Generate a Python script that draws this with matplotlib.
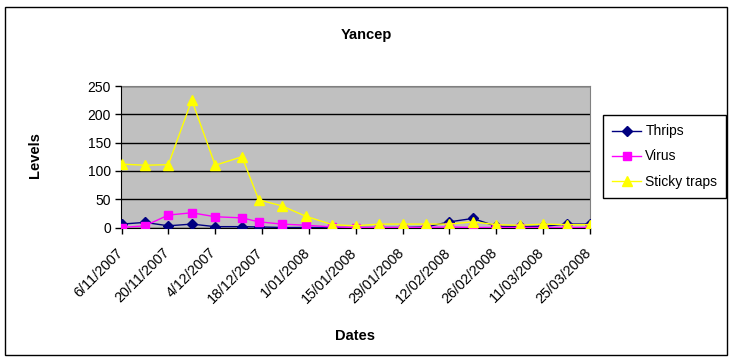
import datetime as dt
import matplotlib
matplotlib.use("Agg")
import matplotlib.pyplot as plt
import matplotlib.transforms as mtransforms
from matplotlib.patches import Rectangle

plt.rcParams['font.family'] = ['Liberation Sans', 'DejaVu Sans']

dates = ["6/11/2007", "13/11/2007", "20/11/2007", "27/11/2007", "4/12/2007",
         "12/12/2007", "17/12/2007", "24/12/2007", "31/12/2007", "8/01/2008",
         "15/01/2008", "22/01/2008", "29/01/2008", "5/02/2008", "12/02/2008",
         "19/02/2008", "26/02/2008", "4/03/2008", "11/03/2008", "18/03/2008",
         "25/03/2008"]
thrips = [6, 9, 3, 6, 1.5, 1.5, 1, 0, 0, 0, 0, 0, 0, 1, 10, 16, 2, 2, 2, 6, 6]
virus = [0, 3, 22, 26, 19, 17, 10, 6, 4, 1, 0, 0, 0, 0, 1, 0, 0, 0, 0, 0, 0]
sticky_traps = [112, 110, 111, 225, 110, 125, 49, 38, 20, 5, 3, 6, 6, 6, 6, 10, 5, 4, 6, 5, 5]

x = [dt.datetime.strptime(d, "%d/%m/%Y") for d in dates]

fig = plt.figure(figsize=(7.32, 3.6), dpi=100)
fig.patches.append(Rectangle((5 / 732, 5 / 360), 722 / 732, 348 / 360, transform=fig.transFigure,
                             fill=False, edgecolor="black", linewidth=1))

ax = fig.add_axes([121.5 / 732, 132.5 / 360, 468.5 / 732, 141.5 / 360])
ax.set_facecolor("#C0C0C0")

ax.plot(x, thrips, color="#000080", marker="D", markersize=5, linewidth=1, label="Thrips", zorder=3)
ax.plot(x, virus, color="#FF00FF", marker="s", markersize=5.5, linewidth=1, label="Virus", zorder=4)
ax.plot(x, sticky_traps, color="#FFFF00", marker="^", markersize=7, linewidth=1, label="Sticky traps", zorder=5)

ax.set_ylim(0, 250)
ax.set_yticks(range(0, 251, 50))
ax.set_xlim(x[0], x[-1])
ax.yaxis.grid(True, color="black", linewidth=1)
ax.set_axisbelow(True)

ticks = [x[0] + dt.timedelta(days=14 * i) for i in range(11)]
ax.set_xticks(ticks)
ax.set_xticklabels([f"{d.day}/{d.month:02d}/{d.year}" for d in ticks],
                   rotation=45, ha="right", rotation_mode="anchor")
ax.tick_params(axis="both", labelsize=10, length=4, width=1, direction="out")
ax.tick_params(axis="x", labelsize=10.3, pad=9)
shift = mtransforms.ScaledTranslation(-6 / 100, 0, fig.dpi_scale_trans)
for lab in ax.get_xticklabels():
    lab.set_transform(lab.get_transform() + shift)

for s in ("top", "right"):
    ax.spines[s].set_color("#808080")
for s in ("left", "bottom"):
    ax.spines[s].set_color("black")

fig.text(366 / 732, 1 - 35 / 360, "Yancep", ha="center", va="center", fontsize=10.5, fontweight="bold")
fig.text(35 / 732, 1 - 155 / 360, "Levels", ha="center", va="center", rotation=90, fontsize=10.5, fontweight="bold")
fig.text(355 / 732, 1 - 336 / 360, "Dates", ha="center", va="center", fontsize=10.5, fontweight="bold")

leg = ax.legend(loc="center left", bbox_to_anchor=(603 / 732, 1 - 156.5 / 360), bbox_transform=fig.transFigure,
                fontsize=10, frameon=True, fancybox=False, edgecolor="black", framealpha=1,
                handlelength=2.1, borderpad=0.65, labelspacing=0.8, handletextpad=0.3, borderaxespad=0)
leg.get_frame().set_linewidth(1)

fig.savefig("out.png", dpi=100)
